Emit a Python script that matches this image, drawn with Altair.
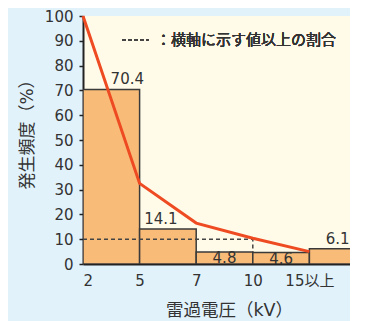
import altair as alt
import pandas as pd

# ---- data ----
tick_labels = ["2", "5", "7", "10", "15以上"]
freq = [70.4, 14.1, 4.8, 4.6, 6.1]            # 発生頻度 (%) per class
freq_text = ["70.4", "14.1", "4.8", "4.6", "6.1"]
exceed = [100, 32.5, 16.5, 10.4, 5.0]          # 横軸に示す値以上の割合 (red line)
ref_x = [0, 3, 3]                              # dashed 10 % guide (index of 2 kV, 10 kV)
ref_y = [10, 10, 4.8]
y_ticks = [0, 10, 20, 30, 40, 50, 60, 70, 80, 90, 100]
legend_text = "：横軸に示す値以上の割合"

FONT = "'DejaVu Sans', 'Noto Sans CJK JP', sans-serif"
TXT = "#333333"

bars = pd.DataFrame({
    "x0": list(range(len(freq))),
    "x1": [i + 1 for i in range(len(freq))],
    "f": freq,
    "t": freq_text,
    "xc": [i + 0.5 for i in range(len(freq))],
    "i": list(range(len(freq))),
})
line_df = pd.DataFrame({"x": list(range(len(exceed))), "y": exceed})
ref_df = pd.DataFrame({"x": ref_x, "y": ref_y, "o": list(range(len(ref_x)))})

label_expr = "[" + ",".join("'" + s + "'" for s in tick_labels) + "][datum.value]"

PW = 267  # plot width (page is limited to 350 px of chart)
PH = 248
xscale = alt.Scale(domain=[0, PW / 56.6], nice=False, zero=False)
yscale = alt.Scale(domain=[0, 100], nice=False)

x_axis = alt.Axis(values=list(range(len(tick_labels))), labelExpr=label_expr,
                  title="雷過電圧（kV）", ticks=False, labelPadding=9,
                  labelFontSize=15, labelColor=TXT, titleFontSize=17.5,
                  titleColor=TXT, titleFontWeight="normal", titlePadding=13,
                  titleX=146, labelOverlap=False,
                  domainColor="#222222", domainWidth=2, grid=False,
                  labelFont=FONT, titleFont=FONT)
y_axis = alt.Axis(values=y_ticks, title="発生頻度（%）",
                  tickSize=4, tickColor="#222222", tickWidth=1.5,
                  labelPadding=6, labelFontSize=15, labelColor=TXT,
                  labelOverlap=False, labelFlush=False,
                  titleFontSize=17, titleColor=TXT, titleFontWeight="normal",
                  titlePadding=8, titleY=114,
                  domainColor="#222222", domainWidth=2, grid=False,
                  labelFont=FONT, titleFont=FONT)


def X(field):
    return alt.X(field, scale=xscale, axis=x_axis, title="雷過電圧（kV）")


def Y(field):
    return alt.Y(field, scale=yscale, axis=y_axis, title="発生頻度（%）")


base_bar = alt.Chart(bars)
rects = base_bar.mark_rect(fill="#f9bb78", stroke="#3a3a3a", strokeWidth=1.5,
                           clip=True).encode(
    x=X("x0:Q"), x2="x1:Q", y=Y("f:Q"), y2=alt.datum(0))

ref = alt.Chart(ref_df).mark_line(color="#444444", strokeWidth=1.5,
                                   strokeDash=[4, 3]).encode(
    x=X("x:Q"), y=Y("y:Q"), order="o:Q")

red = alt.Chart(line_df).mark_line(color="#ee4b23", strokeWidth=3).encode(
    x=X("x:Q"), y=Y("y:Q"))


def labels(idx, dx, dy):
    return base_bar.transform_filter(
        alt.FieldOneOfPredicate(field="i", oneOf=idx)
    ).mark_text(font=FONT, fontSize=15, color=TXT, dx=dx, dy=dy,
                baseline="middle").encode(
        x=X("xc:Q"), y=Y("f:Q"), text="t:N")


lab0 = labels([0], 16, -10)
lab1 = labels([1], -7, -10)
lab4 = labels([4], 0, -10)
lab_in = labels([2, 3], 0, 6)

leg_line = alt.Chart(bars).mark_rule(color="#444444", strokeWidth=1.5,
                                     strokeDash=[4, 2]).encode(
    x=alt.value(39), x2=alt.value(66), y=alt.value(24))
leg_text = alt.Chart(bars).mark_text(font=FONT, fontSize=15, color=TXT,
                                     align="left", baseline="middle").encode(
    x=alt.value(73), y=alt.value(24), text=alt.value(legend_text))

chart = alt.layer(rects, ref, red, lab0, lab1, lab4, lab_in, leg_line, leg_text).properties(
    width=PW, height=PH,
    autosize=alt.AutoSizeParams(type="none"),
    padding={"left": 75, "top": 8, "right": 0, "bottom": 57},
    background="#e1f2fb",
).configure_view(fill="#fffbe8", stroke=None)

chart.save("out.html", embed_options={"renderer": "svg", "actions": False})
